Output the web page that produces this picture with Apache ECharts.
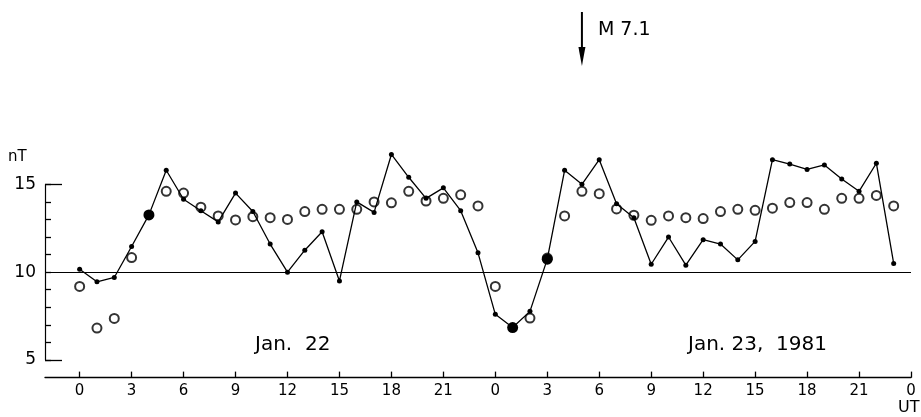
<!DOCTYPE html>
<html>
<head>
<meta charset="utf-8">
<script src="https://cdn.jsdelivr.net/npm/echarts@6/dist/echarts.min.js"></script>
<style>html,body{margin:0;padding:0;background:#fff;}#c{width:921px;height:417px;}</style>
</head>
<body>
<div id="c"></div>
<script>
// Hours since 00 UT Jan 22, 1981
const hours = [0,1,2,3,4,5,6,7,8,9,10,11,12,13,14,15,16,17,18,19,20,21,22,23,
               24,25,26,27,28,29,30,31,32,33,34,35,36,37,38,39,40,41,42,43,44,45,46,47];
// Solid line with dots (nT)
const solidValues = [10.17, 9.45, 9.7, 11.46, 13.26, 15.8, 14.15, 13.5, 12.86, 14.5,
                     13.45, 11.6, 10.0, 11.25, 12.3, 9.5, 14.0, 13.4, 16.7, 15.4,
                     14.2, 14.8, 13.5, 11.1, 7.6, 6.85, 7.77, 10.74, 15.8, 15.0,
                     16.4, 13.9, 13.1, 10.45, 12.0, 10.4, 11.85, 11.6, 10.7, 11.75,
                     16.4, 16.15, 15.85, 16.1, 15.3, 14.6, 16.2, 10.5];
// Open circles (nT)
const openValues = [9.19, 6.82, 7.37, 10.83, null, 14.6, 14.5, 13.7, 13.2, 12.97,
                    13.16, 13.1, 13.0, 13.45, 13.58, 13.58, 13.58, 14.0, 13.95, 14.6,
                    14.05, 14.2, 14.4, 13.77, 9.19, null, 7.39, 10.8, 13.2, 14.6,
                    14.47, 13.6, 13.24, 12.95, 13.2, 13.1, 13.05, 13.45, 13.58, 13.52,
                    13.64, 13.96, 13.96, 13.58, 14.2, 14.2, 14.37, 13.77];
const bigDotHours = [4, 25, 27];
const xTickValues = [0,3,6,9,12,15,18,21,24,27,30,33,36,39,42,45,48];
const yTickValues = [5,6,7,8,9,10,11,12,13,14,15];
const yLabelValues = [5,10,15];
const yMajorTicks = [5,15];
const quakeHour = 29;
const quakeLabel = 'M 7.1';
const dayLabels = ['Jan.  22', 'Jan. 23,  1981'];

const FONT = 'DejaVu Sans';
const chart = echarts.init(document.getElementById('c'));

const solidData = hours.map((h, i) => ({
  value: [h, solidValues[i]],
  symbolSize: bigDotHours.indexOf(h) >= 0 ? 11 : 5
}));
const openData = hours.map((h, i) => [h, openValues[i]]).filter(d => d[1] !== null);

chart.setOption({
  animation: false,
  backgroundColor: '#fff',
  grid: { left: 45, right: 10, top: 131.6, bottom: 39.4 },
  xAxis: {
    type: 'value', min: -2, max: 48,
    axisLine: { show: true, onZero: false, lineStyle: { color: '#000', width: 1.3 } },
    axisTick: { show: true, inside: true, length: 6, customValues: xTickValues, lineStyle: { color: '#000', width: 1.3 } },
    axisLabel: { customValues: xTickValues, formatter: v => String(v % 24), color: '#000', fontFamily: FONT, fontSize: 15, margin: 6 },
    splitLine: { show: false }
  },
  yAxis: [{
    type: 'value', min: 4, max: 18, position: 'left',
    axisLine: { show: false, onZero: false },
    axisTick: { show: true, inside: true, length: 6, customValues: yTickValues, lineStyle: { color: '#000', width: 1.3 } },
    axisLabel: { customValues: yLabelValues, color: '#000', fontFamily: FONT, fontSize: 17, margin: 9 },
    splitLine: { show: false }
  }, {
    type: 'value', min: 4, max: 18, position: 'left', offset: 0,
    axisLine: { show: false, onZero: false },
    axisTick: { show: true, inside: true, length: 17, customValues: yMajorTicks, lineStyle: { color: '#000', width: 1.3 } },
    axisLabel: { show: false },
    splitLine: { show: false }
  }],
  series: [{
    type: 'scatter',
    data: openData,
    symbol: 'emptyCircle',
    symbolSize: 9,
    itemStyle: { color: '#000', borderColor: '#000', borderWidth: 1.3 },
    z: 2,
    markLine: {
      silent: true, symbol: 'none', label: { show: false },
      lineStyle: { color: '#000', width: 1.2, type: 'solid' },
      data: [
        [{ coord: [-2, 10] }, { coord: [48, 10] }],
        [{ coord: [-2, 5] }, { coord: [-2, 15] }]
      ]
    }
  }, {
    type: 'line',
    data: solidData,
    symbol: 'circle',
    showAllSymbol: true,
    lineStyle: { color: '#000', width: 1.3 },
    itemStyle: { color: '#000' },
    z: 3
  }]
});

const qx = chart.convertToPixel({ xAxisIndex: 0 }, quakeHour);
chart.setOption({
  graphic: [
    { type: 'line', shape: { x1: qx, y1: 12, x2: qx, y2: 52 }, style: { stroke: '#000', lineWidth: 2 } },
    { type: 'polygon', shape: { points: [[qx - 3.5, 47], [qx + 3.5, 47], [qx, 66]] }, style: { fill: '#000' } },
    { type: 'text', x: qx + 16, y: 30, style: { text: quakeLabel, font: '19px ' + FONT, fill: '#000', verticalAlign: 'middle' } },
    { type: 'text', x: 8, y: 157, style: { text: 'nT', font: '15px ' + FONT, fill: '#000', verticalAlign: 'middle' } },
    { type: 'text', x: 898, y: 408, style: { text: 'UT', font: '16px ' + FONT, fill: '#000', verticalAlign: 'middle' } },
    { type: 'text', x: 255, y: 345, style: { text: dayLabels[0], font: '20px ' + FONT, fill: '#000', verticalAlign: 'middle' } },
    { type: 'text', x: 688, y: 345, style: { text: dayLabels[1], font: '20px ' + FONT, fill: '#000', verticalAlign: 'middle' } }
  ]
});
</script>
</body>
</html>
